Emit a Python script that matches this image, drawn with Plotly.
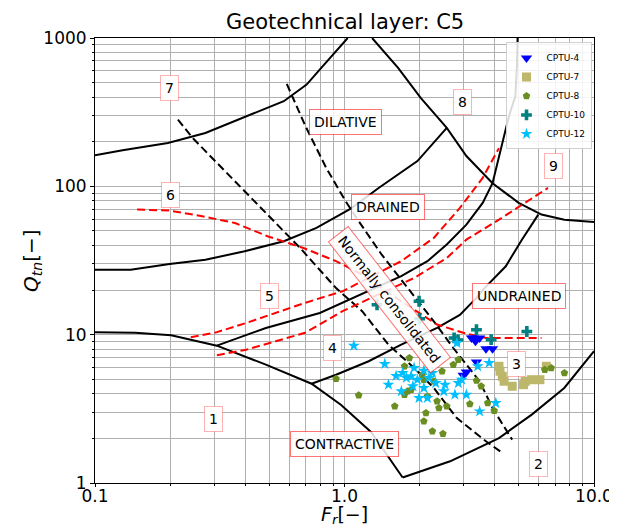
import numpy as np
import plotly.graph_objects as go

# ---------------- chart boundary lines (Fr, Qtn) ----------------
zone1_fr = [0.1, 0.145, 0.202, 0.308, 0.484, 0.738, 0.967, 1.28, 1.71]
zone1_q = [10.4, 10.3, 9.9, 8.43, 6.28, 4.67, 3.37, 2.2, 1.09]
zone2_fr = [1.71, 2.65, 4.16, 5.63, 7.60, 10.0]
zone2_q = [1.09, 1.40, 2.01, 2.89, 4.37, 7.73]
zone7_fr = [0.1, 0.129, 0.196, 0.277, 0.571, 0.705, 0.807, 1.03]
zone7_q = [162, 175, 196, 229, 375, 485, 629, 1000]
drained_fr = [0.1, 0.139, 0.199, 0.277, 0.398, 0.571, 0.772, 1.06, 1.37, 1.96, 2.57]
drained_q = [27.4, 27.4, 30.0, 32.0, 36.5, 42.6, 52.4, 70.7, 97.5, 148, 248]
zone8_fr = [1.29, 1.64, 2.02, 2.57, 3.08, 3.92, 4.99, 6.16, 7.61, 10.0]
zone8_q = [1000, 629, 395, 248, 160, 105, 77.3, 64.5, 59.6, 57.5]
zone45_fr = [0.308, 0.484, 0.796, 1.01, 1.25, 1.688, 2.15, 2.57, 3.08, 3.58, 3.92, 4.23, 4.56, 4.84, 4.91, 4.94]
zone45_q = [8.43, 11.1, 14.0, 16.8, 19.6, 24.8, 31.3, 40.5, 55.2, 77.3, 105, 177, 297, 405, 645, 1000]
zone34_fr = [0.738, 0.925, 1.25, 1.688, 2.35, 2.90, 3.38, 3.64, 4.43, 5.14, 5.98]
zone34_q = [4.67, 5.37, 6.62, 8.56, 11.1, 13.6, 17.7, 20.6, 28.9, 43.7, 64.5]

# normally consolidated band (black dashed)
nc_low_fr = [0.215, 0.246, 0.398, 0.664, 0.925, 1.177, 1.50, 1.90, 2.28, 2.82, 3.69, 4.24]
nc_low_q = [282, 212, 92.7, 38.4, 20.6, 14.4, 8.56, 5.97, 4.37, 2.74, 1.91, 1.62]
nc_high_fr = [0.587, 0.637, 0.697, 0.770, 0.845, 1.01, 1.14, 1.41, 1.79, 2.28, 2.73, 3.48, 3.92, 4.70]
nc_high_q = [490, 359, 255, 182, 133, 79.4, 58.2, 34.6, 20.6, 12.3, 8.13, 4.85, 3.20, 1.96]

# red dashed contours
red6_fr = [0.1475, 0.199, 0.269, 0.364, 0.491, 0.684, 0.925, 1.177, 1.688, 2.35, 2.99, 3.69, 6.16]
red6_q = [69.7, 68.6, 62.9, 56.6, 46.1, 38.4, 31.3, 25.4, 16.8, 11.7, 10.3, 9.5, 9.5]
red5_fr = [0.242, 0.308, 0.404, 0.530, 0.695, 0.982, 1.25, 1.688, 2.28, 2.90, 3.58, 4.16]
red5_q = [9.6, 10.4, 12.0, 14.0, 16.4, 19.6, 24.1, 31.3, 44.9, 71.5, 114, 181]
red4_fr = [0.308, 0.404, 0.530, 0.695, 0.982, 1.37, 1.90, 2.57, 3.08, 4.16, 5.30, 6.54]
red4_q = [7.26, 7.92, 9.03, 10.3, 14.4, 18.6, 24.1, 32.9, 43.7, 59.6, 77.3, 97.5]

# ---------------- CPTU data ----------------
cptu4_fr = [3.23, 3.29, 3.35, 3.48, 3.69, 3.92, 3.38, 3.08, 2.99]
cptu4_q = [9.5, 9.5, 9.03, 9.5, 8.05, 8.05, 6.55, 5.60, 5.32]
cptu7_fr = [4.16, 4.20, 4.29, 4.36, 4.70, 5.22, 5.30, 5.62, 6.07, 6.44]
cptu7_q = [6.12, 5.67, 5.24, 4.85, 4.49, 4.60, 4.85, 4.97, 4.97, 6.12]
cptu8_fr = [0.925, 1.14, 1.59, 1.74, 1.79, 1.85, 1.82, 1.74, 2.05, 2.08, 2.28, 2.46, 2.73, 2.86, 3.38,
            3.53, 2.15, 2.35, 2.39, 2.57, 3.18, 3.75, 3.98, 2.12, 2.08, 2.25, 2.48, 6.35, 6.74, 7.61]
cptu8_q = [5.05, 3.90, 3.29, 3.94, 4.15, 4.26, 6.97, 6.12, 5.37, 4.97, 4.85, 5.67, 6.28, 6.78, 4.90,
           4.49, 3.84, 3.56, 3.20, 3.29, 3.41, 3.46, 3.07, 2.96, 2.61, 2.23, 2.15, 5.81, 5.97, 5.52]
cptu10_fr = [1.35, 1.99, 2.00, 2.75, 2.85, 3.38, 3.87, 5.38]
cptu10_q = [15.9, 16.8, 12.8, 9.5, 9.21, 10.8, 9.25, 10.5]
cptu12_fr = [1.09, 1.45, 1.71, 1.85, 1.90, 2.08, 2.25, 1.50, 1.69, 1.88, 2.08, 1.99, 2.15, 2.32, 2.53,
             2.50, 2.77, 3.08, 2.86, 2.95, 3.48, 3.42, 3.80, 4.04, 2.82, 1.96, 1.77, 2.18, 1.61]
cptu12_q = [8.43, 6.35, 5.52, 5.24, 5.97, 5.72, 5.52, 4.60, 4.15, 4.49, 4.37, 3.74, 3.74, 4.72, 4.60,
            4.15, 3.94, 3.94, 4.72, 4.97, 3.04, 6.12, 6.45, 3.46, 8.79, 4.97, 5.11, 5.11, 5.27]

# ---------------- labels ----------------
zone_numbers = ["1", "2", "3", "4", "5", "6", "7", "8", "9"]
zone_num_fr = [0.298, 5.98, 4.90, 0.897, 0.499, 0.201, 0.199, 2.97, 6.90]
zone_num_q = [2.70, 1.34, 6.35, 8.13, 18.2, 87.1, 461, 369, 138]
region_labels = ["DILATIVE", "DRAINED", "UNDRAINED", "CONTRACTIVE", "Normally consolidated"]
region_fr = [1.005, 1.49, 4.99, 0.997, 1.52]
region_q = [271, 72.4, 18.2, 1.83, 17.2]
region_angle = [0, 0, 0, 0, 52]

x_ticks = [0.1, 1, 10]
x_ticktext = ["0.1", "1.0", "10.0"]
y_ticks = [1, 10, 100, 1000]
y_ticktext = ["1", "10", "100", "1000"]

FONT = "DejaVu Sans"
fig = go.Figure()

def add_line(fr, q, color, dash):
    fig.add_trace(go.Scatter(x=fr, y=q, mode="lines", showlegend=False, hoverinfo="skip",
                             line=dict(color=color, width=2, dash=dash)))

for fr, q in [(zone1_fr, zone1_q), (zone2_fr, zone2_q), (zone7_fr, zone7_q), (drained_fr, drained_q),
              (zone8_fr, zone8_q), (zone45_fr, zone45_q), (zone34_fr, zone34_q)]:
    add_line(fr, q, "black", "solid")
for fr, q in [(nc_low_fr, nc_low_q), (nc_high_fr, nc_high_q)]:
    add_line(fr, q, "black", "8px,4px")
for fr, q in [(red6_fr, red6_q), (red5_fr, red5_q), (red4_fr, red4_q)]:
    add_line(fr, q, "red", "8px,4px")

series = [
    ("CPTU-4", cptu4_fr, cptu4_q, "triangle-down", "#0000ff", 10),
    ("CPTU-7", cptu7_fr, cptu7_q, "square", "#bdb76b", 9),
    ("CPTU-8", cptu8_fr, cptu8_q, "pentagon", "#6b8e23", 8),
    ("CPTU-10", cptu10_fr, cptu10_q, "cross", "#008080", 9),
    ("CPTU-12", cptu12_fr, cptu12_q, "star", "#00bfff", 9),
]
for name, fr, q, sym, col, sz in series:
    fig.add_trace(go.Scatter(x=fr, y=q, mode="markers", name=name,
                             marker=dict(symbol=sym, color=col, size=sz, line=dict(width=0))))

annotations = []
for t, f, q in zip(zone_numbers, zone_num_fr, zone_num_q):
    annotations.append(dict(x=np.log10(f), y=np.log10(q), xref="x", yref="y", text=t, showarrow=False,
                            font=dict(family=FONT, size=14, color="black"), bgcolor="white",
                            bordercolor="rgba(255,0,0,0.3)", borderwidth=1, borderpad=4))
for t, f, q, a in zip(region_labels, region_fr, region_q, region_angle):
    annotations.append(dict(x=np.log10(f), y=np.log10(q), xref="x", yref="y", text=t, showarrow=False,
                            textangle=a, font=dict(family=FONT, size=14, color="black"),
                            bgcolor="rgba(255,255,255,0.85)",
                            bordercolor="rgba(255,0,0,0.55)", borderwidth=1, borderpad=4))
annotations.append(dict(x=0.5, y=1.036, xref="paper", yref="paper", text="Geotechnical layer: C5",
                        showarrow=False, font=dict(family=FONT, size=21, color="black"),
                        xanchor="center", yanchor="middle"))
annotations.append(dict(x=0.5, y=-0.072, xref="paper", yref="paper",
                        text="<i>F</i><sub><i>r</i></sub>[−]",
                        showarrow=False, font=dict(family=FONT, size=19, color="black"),
                        xanchor="center", yanchor="middle"))
annotations.append(dict(x=-0.1275, y=0.5, xref="paper", yref="paper",
                        text="<i>Q</i><sub><i>tn</i></sub>[−]", textangle=-90,
                        showarrow=False, font=dict(family=FONT, size=20, color="black"),
                        xanchor="center", yanchor="middle"))

x_minor = [m * d for d in [0.1, 1] for m in range(2, 10)]
y_minor = [m * d for d in [1, 10, 100] for m in range(2, 10)]
grid_col = "#b0b0b0"

fig.update_layout(
    width=617, height=524,
    margin=dict(l=87, r=20, t=30, b=49),
    paper_bgcolor="white", plot_bgcolor="white",
    font=dict(family=FONT, color="black"),
    annotations=annotations,
    showlegend=True,
    legend=dict(x=0.995, y=0.99, xanchor="right", yanchor="top", bgcolor="rgba(255,255,255,0.85)",
                bordercolor="#d0d0d0", borderwidth=1, font=dict(family=FONT, size=9, color="black"),
                itemwidth=30, tracegroupgap=0),
    xaxis=dict(type="log", range=[-1, 1], tickmode="array", tickvals=x_ticks, ticktext=x_ticktext,
               showgrid=True, gridcolor=grid_col, gridwidth=1, ticks="outside", ticklen=3,
               ticklabelstandoff=-5,
               tickcolor="black", showline=True, linecolor="black", linewidth=1, mirror=True,
               tickfont=dict(family=FONT, size=17, color="black"), zeroline=False,
               minor=dict(tickmode="array", tickvals=x_minor, showgrid=True, gridcolor=grid_col,
                          gridwidth=1, ticks="outside", ticklen=2, tickcolor="black")),
    yaxis=dict(type="log", range=[0, 3], tickmode="array", tickvals=y_ticks, ticktext=y_ticktext,
               showgrid=True, gridcolor=grid_col, gridwidth=1, ticks="outside", ticklen=4,
               tickcolor="black", showline=True, linecolor="black", linewidth=1, mirror=True,
               tickfont=dict(family=FONT, size=17, color="black"), zeroline=False,
               minor=dict(tickmode="array", tickvals=y_minor, showgrid=True, gridcolor=grid_col,
                          gridwidth=1, ticks="outside", ticklen=2, tickcolor="black")),
)

fig.write_html("out.html")
